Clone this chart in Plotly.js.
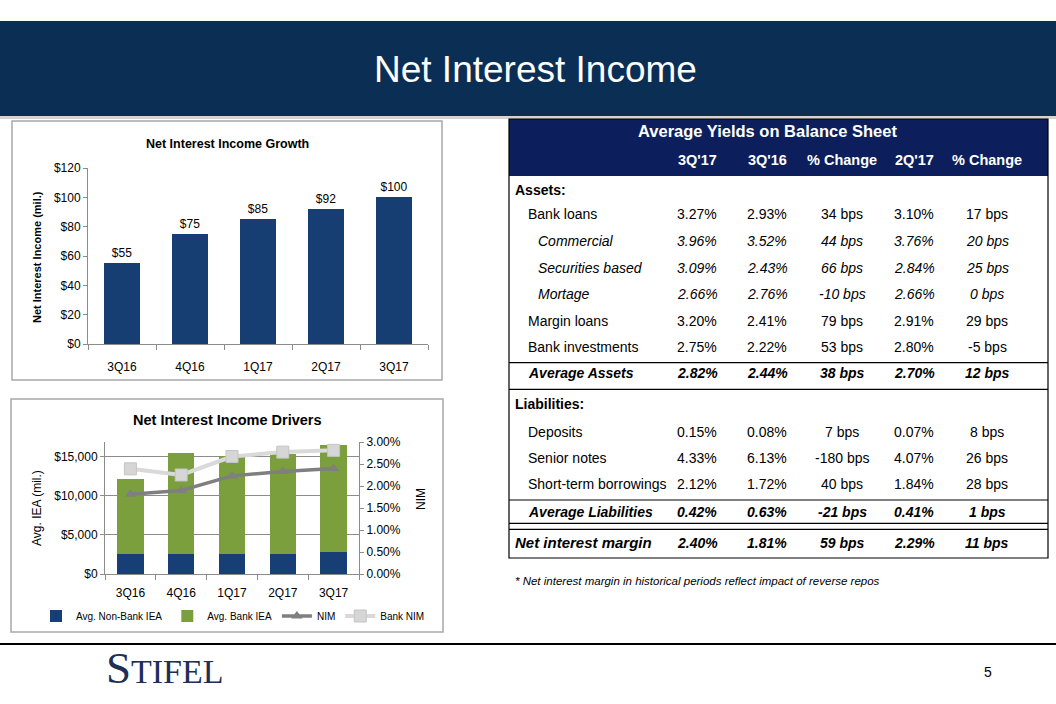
<!DOCTYPE html>
<html>
<head>
<meta charset="utf-8">
<script src="https://cdn.plot.ly/plotly-3.0.1.min.js"></script>
<style>
html,body{margin:0;padding:0;background:#fff;}
#chart{width:1056px;height:704px;}
</style>
</head>
<body>
<div id="chart"></div>
<script>
// ---------------- DATA ----------------
const quarters = ['3Q16', '4Q16', '1Q17', '2Q17', '3Q17'];

// Net Interest Income Growth ($ mil.)
const netInterestIncome = [55, 75, 85, 92, 100];

// Net Interest Income Drivers
const avgNonBankIEA = [2550, 2550, 2550, 2550, 2750];
const avgBankIEA = [9550, 12900, 12550, 12800, 13750];
const nim = [1.81, 1.90, 2.23, 2.33, 2.40];
const bankNim = [2.39, 2.25, 2.67, 2.77, 2.81];

// Average Yields on Balance Sheet
const tableColumns = ["3Q'17", "3Q'16", "% Change", "2Q'17", "% Change"];
const tableRowLabels = ['Assets:', 'Bank loans', 'Commercial', 'Securities based', 'Mortage',
  'Margin loans', 'Bank investments', 'Average Assets', 'Liabilities:', 'Deposits',
  'Senior notes', 'Short-term borrowings', 'Average Liabilities', 'Net interest margin'];
const col3Q17 = ['', '3.27%', '3.96%', '3.09%', '2.66%', '3.20%', '2.75%', '2.82%', '', '0.15%', '4.33%', '2.12%', '0.42%', '2.40%'];
const col3Q16 = ['', '2.93%', '3.52%', '2.43%', '2.76%', '2.41%', '2.22%', '2.44%', '', '0.08%', '6.13%', '1.72%', '0.63%', '1.81%'];
const colChgYoY = ['', '34 bps', '44 bps', '66 bps', '-10 bps', '79 bps', '53 bps', '38 bps', '', '7 bps', '-180 bps', '40 bps', '-21 bps', '59 bps'];
const col2Q17 = ['', '3.10%', '3.76%', '2.84%', '2.66%', '2.91%', '2.80%', '2.70%', '', '0.07%', '4.07%', '1.84%', '0.41%', '2.29%'];
const colChgQoQ = ['', '17 bps', '20 bps', '25 bps', '0 bps', '29 bps', '-5 bps', '12 bps', '', '8 bps', '26 bps', '28 bps', '1 bps', '11 bps'];

const footnote = '* Net interest margin in historical periods reflect impact of reverse repos';

// ---------------- LAYOUT HELPERS (positions / styles) ----------------
const W = 1056, H = 704;
const px = x => x / W;
const py = y => 1 - y / H;
const FONT = 'Liberation Sans, Arial, sans-serif';

// row styles: s = section header, n = normal, i = italic sub-row, t = bold-italic total, m = final total
const rowStyle = ['s', 'n', 'i', 'i', 'i', 'n', 'n', 't', 's', 'n', 'n', 'n', 't', 'm'];
const rowCenters = [190, 214, 241, 268, 294, 320.7, 346.7, 373.3, 404, 431.7, 458.3, 484.3, 511.7, 542.7];
const colCenters = [697, 767, 842, 914, 987];
const indent = {s: 513, n: 526, i: 536, t: 526, m: 513};

// ---------------- TRACES ----------------
const traces = [
  {
    type: 'bar', x: quarters, y: netInterestIncome, xaxis: 'x', yaxis: 'y',
    marker: {color: '#173e72'}, width: 0.52, showlegend: false,
    text: netInterestIncome.map(v => '$' + v), textposition: 'outside',
    textfont: {family: FONT, size: 12, color: '#000'}, cliponaxis: false,
    hoverinfo: 'skip'
  },
  {
    type: 'bar', name: 'Avg. Non-Bank IEA', x: quarters, y: avgNonBankIEA, xaxis: 'x2', yaxis: 'y2',
    marker: {color: '#183f75'}, width: 0.52, hoverinfo: 'skip'
  },
  {
    type: 'bar', name: 'Avg. Bank IEA', x: quarters, y: avgBankIEA, xaxis: 'x2', yaxis: 'y2',
    marker: {color: '#7b9f3d'}, width: 0.52, hoverinfo: 'skip'
  },
  {
    type: 'scatter', mode: 'lines+markers', name: 'NIM', x: quarters, y: nim, xaxis: 'x2', yaxis: 'y3',
    line: {color: '#7f7f7f', width: 3.5}, marker: {symbol: 'triangle-up', size: 10, color: '#7f7f7f'},
    hoverinfo: 'skip'
  },
  {
    type: 'scatter', mode: 'lines+markers', name: 'Bank NIM', x: quarters, y: bankNim, xaxis: 'x2', yaxis: 'y3',
    line: {color: '#d9d9d9', width: 4}, marker: {symbol: 'square', size: 12, color: '#d6d6d6', line: {color: '#c4c4c4', width: 1}},
    hoverinfo: 'skip'
  }
];

// ---------------- SHAPES ----------------
const shapes = [
  // header band
  {type: 'rect', xref: 'paper', yref: 'paper', x0: 0, x1: 1, y0: py(116), y1: py(21), fillcolor: '#0b2e55', line: {width: 0}, layer: 'below'},
  {type: 'rect', xref: 'paper', yref: 'paper', x0: 0, x1: 1, y0: py(119), y1: py(116), fillcolor: '#d4d4d4', line: {width: 0}, layer: 'below'},
  // chart boxes
  {type: 'rect', xref: 'paper', yref: 'paper', x0: px(12), x1: px(442), y0: py(380), y1: py(121), line: {color: '#a8a8a8', width: 1.5}, layer: 'below'},
  {type: 'rect', xref: 'paper', yref: 'paper', x0: px(11), x1: px(443), y0: py(632), y1: py(399), line: {color: '#a8a8a8', width: 1.5}, layer: 'below'},
  // table header
  {type: 'rect', xref: 'paper', yref: 'paper', x0: px(509), x1: px(1048), y0: py(176), y1: py(119), fillcolor: '#0c1f5c', line: {width: 0}, layer: 'below'},
  // table border
  {type: 'rect', xref: 'paper', yref: 'paper', x0: px(509), x1: px(1048), y0: py(558), y1: py(119), line: {color: '#000', width: 1.2}},
  // footer line
  {type: 'line', xref: 'paper', yref: 'paper', x0: 0, x1: 1, y0: py(644), y1: py(644), line: {color: '#000', width: 2}}
];
[362.7, 389.3, 500, 523.3, 529.3].forEach(y => {
  shapes.push({type: 'line', xref: 'paper', yref: 'paper', x0: px(509), x1: px(1048), y0: py(y), y1: py(y), line: {color: '#000', width: 1.2}});
});

// ---------------- ANNOTATIONS ----------------
const ann = [];
function A(text, x, y, opts) {
  ann.push(Object.assign({xref: 'paper', yref: 'paper', x: px(x), y: py(y), text: text, showarrow: false,
    xanchor: 'center', yanchor: 'middle', font: {family: FONT, size: 14, color: '#000'}}, opts || {}));
}
// slide title
A('Net Interest Income', 535, 70, {font: {family: FONT, size: 37, color: '#fff'}});
// chart 1 titles
A('<b>Net Interest Income Growth</b>', 227, 144, {font: {family: FONT, size: 12.5, color: '#000'}});
A('<b>Net Interest Income (mil.)</b>', 37, 257, {textangle: -90, font: {family: FONT, size: 11, color: '#000'}});
// chart 2 titles
A('<b>Net Interest Income Drivers</b>', 227, 420, {font: {family: FONT, size: 14.5, color: '#000'}});
A('Avg. IEA (mil.)', 37, 508, {textangle: -90, font: {family: FONT, size: 12, color: '#000'}});
A('NIM', 421, 499, {textangle: -90, font: {family: FONT, size: 12, color: '#000'}});
// table header
A('<b>Average Yields on Balance Sheet</b>', 767, 131, {font: {family: FONT, size: 16.5, color: '#fff'}});
tableColumns.forEach((c, j) => A('<b>' + c + '</b>', colCenters[j], 159.5, {font: {family: FONT, size: 14.5, color: '#fff'}}));
// table body
const valueCols = [col3Q17, col3Q16, colChgYoY, col2Q17, colChgQoQ];
tableRowLabels.forEach((lab, i) => {
  const st = rowStyle[i];
  const wrap = t => st === 's' ? '<b>' + t + '</b>' : st === 'i' ? '<i>' + t + '</i>' : (st === 't' || st === 'm') ? '<b><i>' + t + '</i></b>' : t;
  A(wrap(lab), indent[st], rowCenters[i], {xanchor: 'left', font: {family: FONT, size: st === 'm' ? 15 : 14, color: '#000'}});
  valueCols.forEach((col, j) => {
    if (col[i] !== '') A(wrap(col[i]), colCenters[j], rowCenters[i]);
  });
});
A('<i>' + footnote + '</i>', 513, 580.5, {xanchor: 'left', font: {family: FONT, size: 11.5, color: '#000'}});
// footer
A('S<span style="font-size:34px">TIFEL</span>', 104, 668, {xanchor: 'left', font: {family: 'Liberation Serif, DejaVu Serif, serif', size: 45, color: '#1b2f57'}});
A('5', 988, 672, {font: {family: FONT, size: 14, color: '#000'}});

// ---------------- LAYOUT ----------------
const axisCommon = {showline: true, linecolor: '#8c8c8c', linewidth: 1, ticks: 'outside', tickcolor: '#8c8c8c',
  showgrid: false, zeroline: false, tickfont: {family: FONT, size: 12, color: '#000'}, fixedrange: true};

const layout = {
  width: W, height: H, margin: {l: 0, r: 0, t: 0, b: 0},
  paper_bgcolor: '#fff', plot_bgcolor: 'rgba(0,0,0,0)',
  barmode: 'stack', showlegend: true,
  font: {family: FONT, color: '#000'},
  xaxis: Object.assign({}, axisCommon, {domain: [px(88), px(428)], anchor: 'y', tickson: 'boundaries', ticklen: 5, ticklabelstandoff: 12}),
  yaxis: Object.assign({}, axisCommon, {domain: [py(344), py(168)], anchor: 'x', range: [0, 120], dtick: 20, tickprefix: '$', ticklen: 4}),
  xaxis2: Object.assign({}, axisCommon, {domain: [px(105), px(359)], anchor: 'y2', tickson: 'boundaries', ticklen: 5, ticklabelstandoff: 8}),
  yaxis2: Object.assign({}, axisCommon, {domain: [py(574), py(442)], anchor: 'x2', range: [0, 16850],
    tickvals: [0, 5000, 10000, 15000], ticktext: ['$0', '$5,000', '$10,000', '$15,000'], ticklen: 4,
    showgrid: true, gridcolor: '#8c8c8c', gridwidth: 1}),
  yaxis3: Object.assign({}, axisCommon, {overlaying: 'y2', side: 'right', anchor: 'x2', range: [0, 3], dtick: 0.5,
    tickformat: '.2f', ticksuffix: '%', ticklen: 4}),
  legend: {orientation: 'h', x: px(36), y: py(616), xanchor: 'left', yanchor: 'middle', traceorder: 'normal',
    font: {family: FONT, size: 10, color: '#000'}, bgcolor: 'rgba(0,0,0,0)', itemwidth: 30},
  shapes: shapes,
  annotations: ann
};

Plotly.newPlot('chart', traces, layout, {staticPlot: true, displayModeBar: false});
</script>
</body>
</html>
